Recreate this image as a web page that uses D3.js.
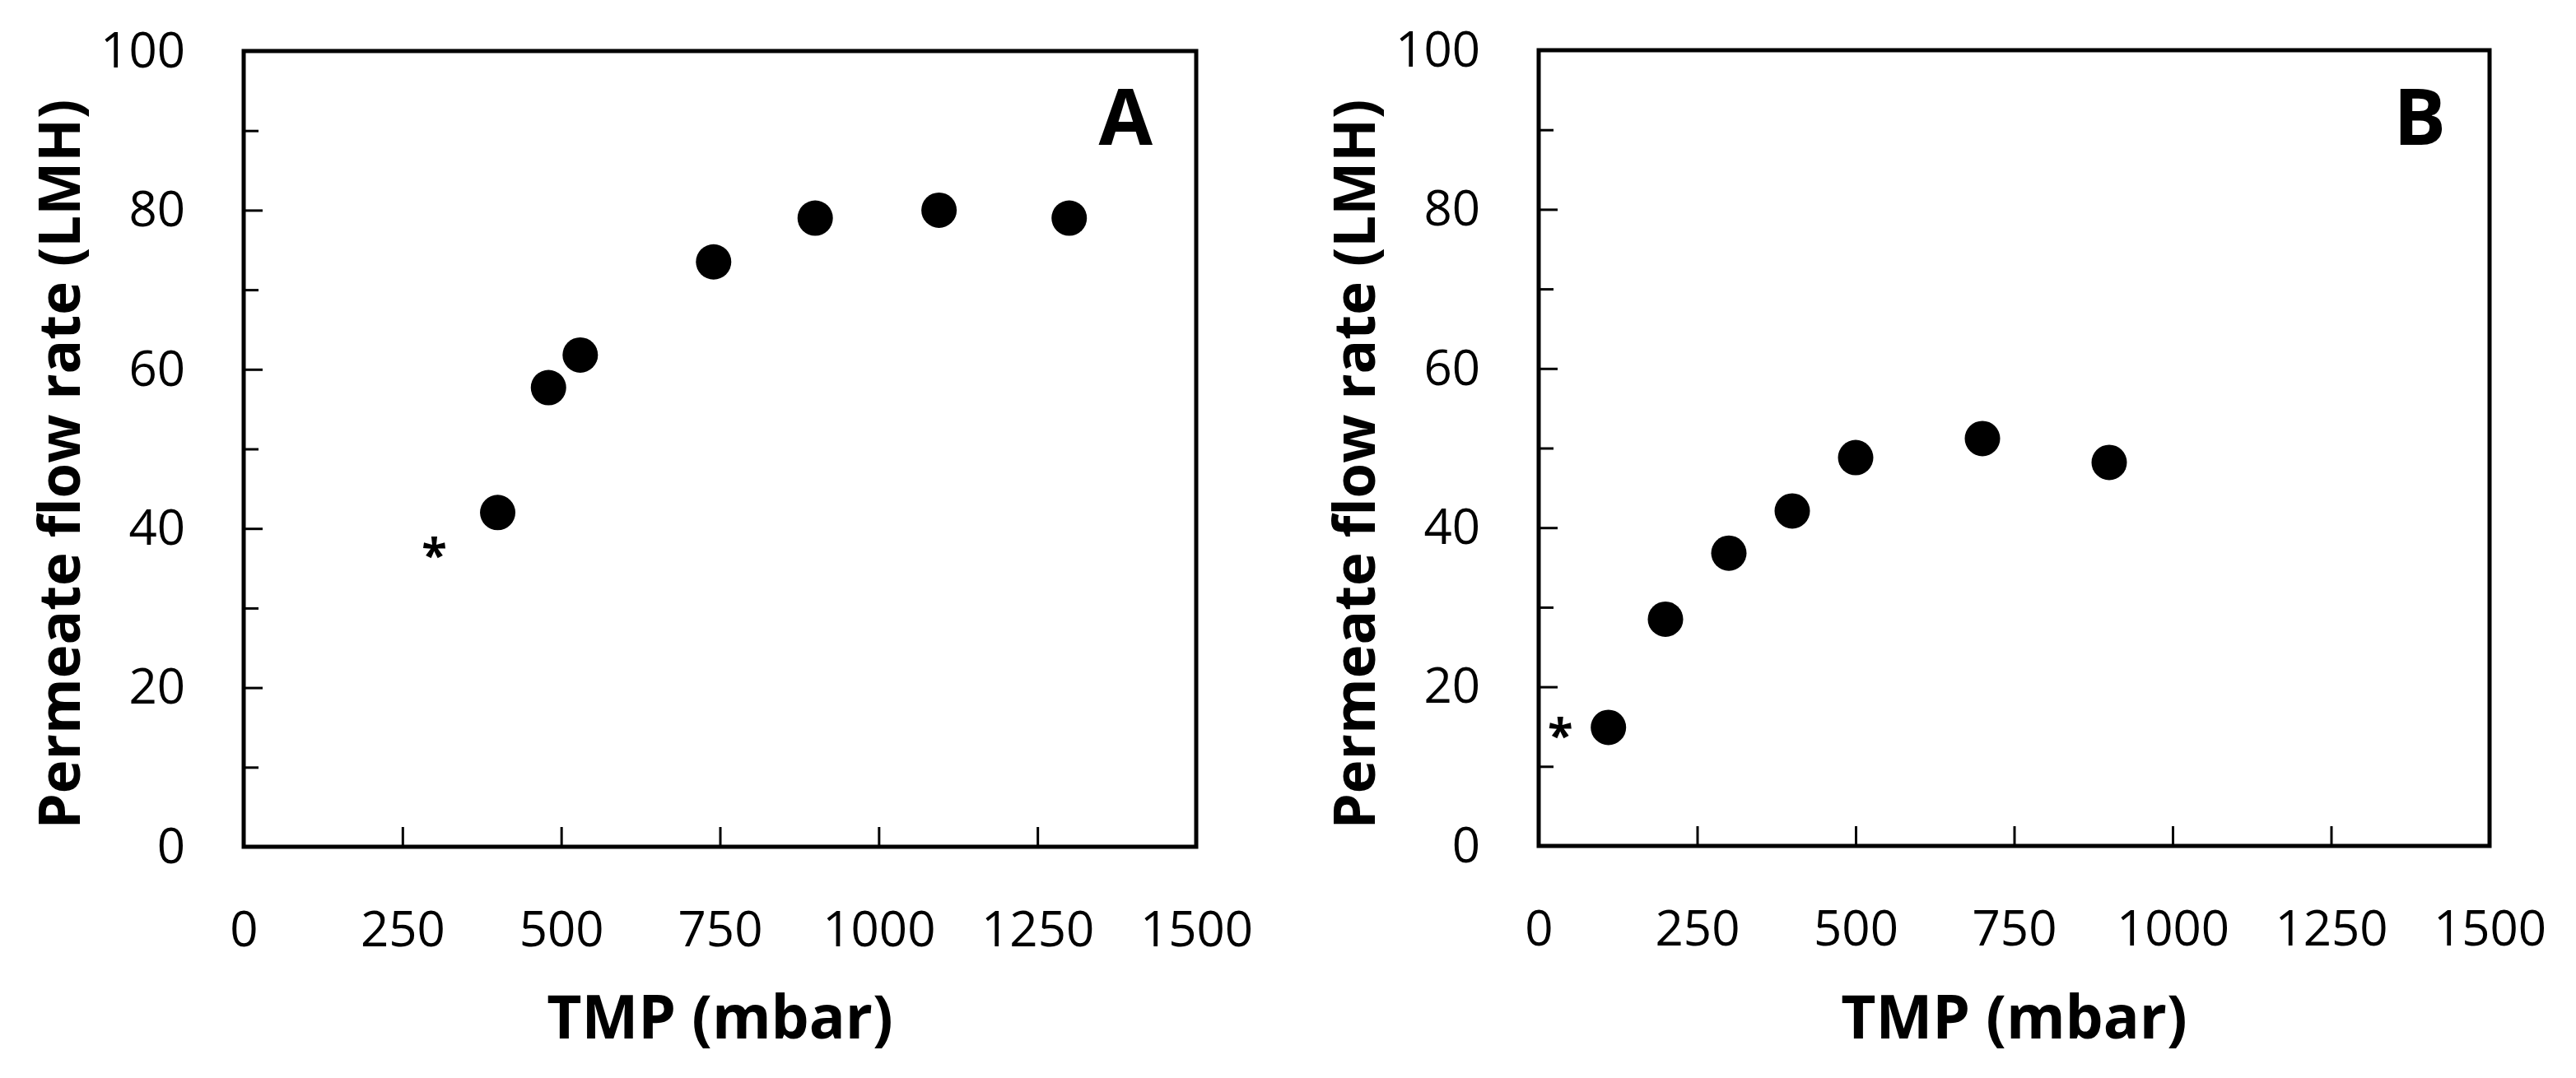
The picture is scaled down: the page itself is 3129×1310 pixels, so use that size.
<!DOCTYPE html>
<html>
<head>
<meta charset="utf-8">
<script src="https://cdn.jsdelivr.net/npm/d3@7"></script>
<style>
  html, body { margin: 0; padding: 0; background: #fff; }
  svg { display: block; }
</style>
</head>
<body>
<div id="chart"><svg width="3129" height="1310"></svg></div>
<script>
// panel A
const TMP_A = [400, 480, 530, 740, 900, 1095, 1300];
const FLUX_A = [42, 57.7, 61.8, 73.5, 79, 80, 79];
const STAR_A = [300, 37.2];

// panel B
const TMP_B = [110, 200, 300, 400, 500, 700, 900];
const FLUX_B = [14.9, 28.5, 36.8, 42.1, 48.8, 51.2, 48.2];
const STAR_B = [34, 14.5];

const X_TICKS = [0, 250, 500, 750, 1000, 1250, 1500];
const Y_TICKS = [0, 20, 40, 60, 80, 100];
const Y_MINOR = [10, 30, 50, 70, 90];

const X_TITLE = 'TMP (mbar)';
const Y_TITLE = 'Permeate flow rate (LMH)';

const SVG = d3.select('#chart svg');
const FONT = "'Open Sans', 'DejaVu Sans', sans-serif";

function drawPanel(cfg) {
  const x = d3.scaleLinear().domain([0, 1500]).range([cfg.left, cfg.right]);
  const y = d3.scaleLinear().domain([0, 100]).range([cfg.bottom, cfg.top]);
  const G = SVG.append('g');

  // x tick labels
  G.append('g')
    .attr('transform', `translate(0, ${cfg.bottom})`)
    .call(d3.axisBottom(x).tickValues(X_TICKS).tickFormat(d3.format('d')).tickSize(0).tickPadding(78))
    .call((g) => g.select('.domain').remove())
    .selectAll('text')
    .style('font-family', FONT)
    .style('font-size', '60px')
    .style('fill', '#000');

  // x ticks (inside)
  G.append('g')
    .attr('transform', `translate(0, ${cfg.bottom})`)
    .call(d3.axisBottom(x).tickValues(X_TICKS.slice(1, -1)).tickSize(-24).tickFormat(''))
    .call((g) => g.select('.domain').remove())
    .selectAll('line')
    .style('stroke', '#000')
    .style('stroke-width', 3);

  // y axis, major ticks with labels
  G.append('g')
    .attr('transform', `translate(${cfg.left}, 0)`)
    .call(d3.axisLeft(y).tickValues(Y_TICKS).tickFormat(d3.format('d')).tickSizeInner(-23).tickSizeOuter(0).tickPadding(71))
    .call((g) => g.select('.domain').remove())
    .call((g) => g.selectAll('line').style('stroke', '#000').style('stroke-width', 3))
    .selectAll('text')
    .style('font-family', FONT)
    .style('font-size', '60px')
    .style('fill', '#000');

  // y minor ticks
  G.append('g')
    .attr('transform', `translate(${cfg.left}, 0)`)
    .call(d3.axisLeft(y).tickValues(Y_MINOR).tickSize(-18).tickFormat(''))
    .call((g) => g.select('.domain').remove())
    .selectAll('line')
    .style('stroke', '#000')
    .style('stroke-width', 3);

  // frame
  G.append('rect')
    .attr('x', cfg.left)
    .attr('y', cfg.top)
    .attr('width', cfg.right - cfg.left)
    .attr('height', cfg.bottom - cfg.top)
    .style('fill', 'none')
    .style('stroke', '#000')
    .style('stroke-width', 5);

  // points
  G.selectAll('circle')
    .data(cfg.xs.map((v, i) => [v, cfg.ys[i]]))
    .join('circle')
    .attr('cx', (d) => x(d[0]))
    .attr('cy', (d) => y(d[1]))
    .attr('r', 21.5)
    .style('fill', '#000');

  // asterisk
  G.append('text')
    .text('*')
    .attr('x', x(cfg.star[0]))
    .attr('y', y(cfg.star[1]))
    .attr('dy', '0.45em')
    .style('text-anchor', 'middle')
    .style('font-family', FONT)
    .style('font-weight', '700')
    .style('font-size', '56px');

  // panel letter
  G.append('text')
    .text(cfg.letter)
    .attr('x', cfg.right - 53)
    .attr('y', 176)
    .style('text-anchor', 'end')
    .style('font-family', FONT)
    .style('font-weight', '700')
    .style('font-size', '95px');

  // axis titles
  G.append('text')
    .text(X_TITLE)
    .attr('x', (cfg.left + cfg.right) / 2)
    .attr('y', 1262)
    .style('text-anchor', 'middle')
    .style('font-family', FONT)
    .style('font-weight', '700')
    .style('font-size', '73px');

  G.append('text')
    .text(Y_TITLE)
    .attr('transform', `translate(${cfg.left - 199}, 564) rotate(-90)`)
    .style('text-anchor', 'middle')
    .style('font-family', FONT)
    .style('font-weight', '700')
    .style('font-size', '69px');
}

drawPanel({ left: 296, right: 1453, top: 62, bottom: 1029, xs: TMP_A, ys: FLUX_A, star: STAR_A, letter: 'A' });
drawPanel({ left: 1869, right: 3024, top: 61, bottom: 1028, xs: TMP_B, ys: FLUX_B, star: STAR_B, letter: 'B' });
</script>
</body>
</html>
